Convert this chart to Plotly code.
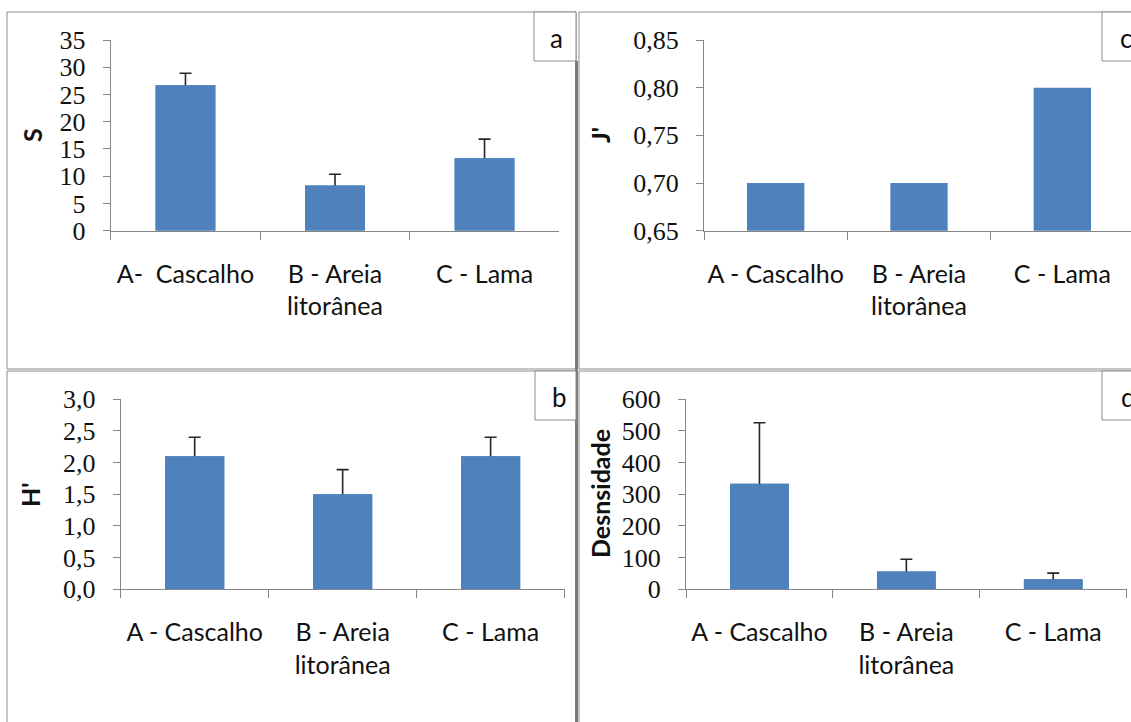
import plotly.graph_objects as go

# ---------------- data ----------------
cats_a = ["A-\u00a0 Cascalho", "B - Areia<br>litorânea", "C - Lama"]
cats = ["A - Cascalho", "B - Areia<br>litorânea", "C - Lama"]

S_vals = [26.7, 8.3, 13.3]
S_err = [2.2, 2.05, 3.5]

J_vals = [0.70, 0.70, 0.80]

H_vals = [2.1, 1.5, 2.1]
H_err = [0.3, 0.39, 0.3]

D_vals = [333, 56, 32]
D_err = [193, 39, 19]

panel_letters = ["a", "b", "c", "d"]
y_titles = ["S", "H'", "J'", "Desnsidade"]

# ---------------- layout helpers ----------------
W, H = 1131, 722
BAR = "#4F81BD"
AXC = "#868686"
BORDER = "#8c8c8c"
SERIF = "Liberation Serif"
SANS = "Lato"


def px(x):
    return x / W


def py(y):
    return 1 - y / H


def xdom(l, r):
    return [px(l), min(1.0, px(r))]


def ydom(t, b):
    return [py(b), py(t)]


fig = go.Figure()


def add_bars(xname, yname, cats_list, vals, errs=None):
    if errs is not None:
        # error bar trace underneath (its lower half is hidden by the bar on top)
        fig.add_trace(go.Bar(x=cats_list, y=vals, xaxis=xname, yaxis=yname,
                             marker=dict(color=BAR, line=dict(width=0)),
                             width=0.4, showlegend=False, hoverinfo="skip",
                             error_y=dict(type="data", symmetric=True, array=errs,
                                          color="#262626", thickness=1.6, width=6)))
    fig.add_trace(go.Bar(x=cats_list, y=vals, xaxis=xname, yaxis=yname,
                         marker=dict(color=BAR, line=dict(width=0)),
                         width=0.4, showlegend=False))


add_bars("x", "y", cats_a, S_vals, S_err)
add_bars("x2", "y2", cats, J_vals)
add_bars("x3", "y3", cats, H_vals, H_err)
add_bars("x4", "y4", cats, D_vals, D_err)

xcommon = dict(type="category", showline=True, linecolor=AXC, linewidth=1,
               ticks="outside", ticklen=8, tickcolor=AXC, tickson="boundaries",
               showgrid=False, zeroline=False, ticklabelstandoff=21,
               automargin=False, tickangle=0,
               tickfont=dict(family=SANS, size=25, color="#111111"))
ycommon = dict(showline=True, linecolor=AXC, linewidth=1, ticks="outside",
               ticklen=7, tickcolor=AXC, showgrid=False, zeroline=False,
               ticklabelstandoff=12, automargin=False,
               tickfont=dict(family=SERIF, size=26, color="#111111"))

# panel c axis runs slightly past the right edge of the picture
c_left, c_right_full = 704, 1134
c_cat = (c_right_full - c_left) / 3
c_end = -0.5 + (W - c_left) / c_cat

fig.update_layout(
    template="none", barmode="overlay",
    width=W, height=H, margin=dict(l=0, r=0, t=0, b=0, autoexpand=False),
    paper_bgcolor="white", plot_bgcolor="white", separators=", ",
    xaxis=dict(domain=xdom(110.7, 559.3), anchor="y", range=[-0.5, 2.5], **xcommon),
    yaxis=dict(domain=ydom(40, 230.7), anchor="x", range=[0, 35], dtick=5,
               tick0=0, **ycommon),
    xaxis2=dict(domain=xdom(c_left, W), anchor="y2", range=[-0.5, c_end], **xcommon),
    yaxis2=dict(domain=ydom(40, 230.7), anchor="x2", range=[0.65, 0.85],
                dtick=0.05, tick0=0.65, tickformat=".2f", **ycommon),
    xaxis3=dict(domain=xdom(120.7, 564.6), anchor="y3", range=[-0.5, 2.5], **xcommon),
    yaxis3=dict(domain=ydom(399.3, 589.3), anchor="x3", range=[0, 3], dtick=0.5,
                tick0=0, tickformat=".1f", **ycommon),
    xaxis4=dict(domain=xdom(686, 1126.7), anchor="y4", range=[-0.5, 2.5], **xcommon),
    yaxis4=dict(domain=ydom(399.3, 589.3), anchor="x4", range=[0, 600], dtick=100,
                tick0=0, **ycommon),
)

shapes = []


def rect(x0, y0, x1, y1, color=BORDER, width=1, fill=None):
    d = dict(type="rect", xref="paper", yref="paper",
             x0=px(x0), x1=px(x1), y0=py(y1), y1=py(y0),
             line=dict(color=color, width=width), layer="above")
    if fill:
        d["fillcolor"] = fill
    shapes.append(d)


# panel frames
rect(7, 12, 576, 369)
rect(7, 371, 576, 740)
rect(579, 12, 1145, 369)
rect(579, 371, 1145, 740)
# darker divider between left and right panels
shapes.append(dict(type="line", xref="paper", yref="paper",
                   x0=px(576.5), x1=px(576.5), y0=py(740), y1=py(61),
                   line=dict(color="#7a7a7a", width=3), layer="above"))
# letter boxes
rect(534, 12, 576, 61, fill="white")
rect(535, 371, 576, 420, fill="white")
rect(1102, 12, 1145, 61, fill="white")
rect(1102, 371, 1145, 420, fill="white")

annotations = []
letter_pos = [(556, 38), (559, 397), (1126, 38), (1128, 397)]
for (lx, ly), t in zip(letter_pos, panel_letters):
    annotations.append(dict(text=t, x=px(lx), y=py(ly), xref="paper", yref="paper",
                            showarrow=False, xanchor="center", yanchor="middle",
                            font=dict(family=SANS, size=26, color="#111111")))

title_pos = [(32, 135), (30, 495), (600, 135), (600, 494)]
for (tx, ty), t in zip(title_pos, y_titles):
    annotations.append(dict(text="<b>%s</b>" % t, x=px(tx), y=py(ty), xref="paper",
                            yref="paper", showarrow=False, textangle=-90,
                            xanchor="center", yanchor="middle",
                            font=dict(family=SANS, size=25, color="#111111")))

fig.update_layout(shapes=shapes, annotations=annotations)

fig.write_html("out.html", config={"displayModeBar": False},
               post_script="document.body.style.margin='0';"
                           "document.body.style.overflow='hidden';")
